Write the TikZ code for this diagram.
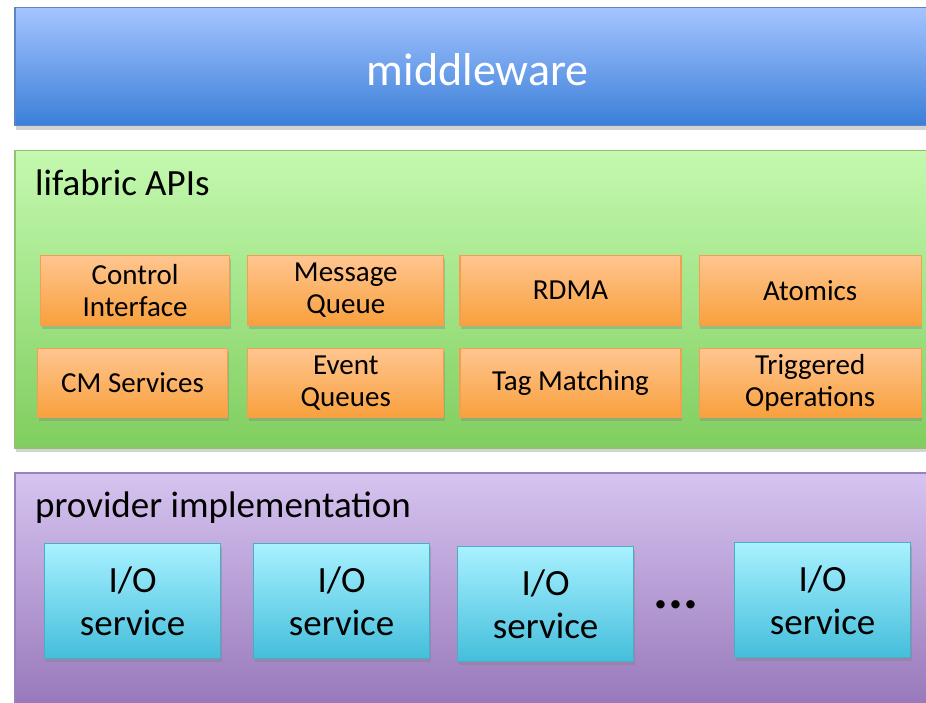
\documentclass[tikz,border=0pt]{standalone}
\usepackage{fontspec}
\setmainfont{Carlito}
\usetikzlibrary{positioning, shadows}

\definecolor{mwtop}{HTML}{A5C4FF}
\definecolor{mwbot}{HTML}{3A7FD8}
\definecolor{mwline}{HTML}{5A86C2}
\definecolor{apitop}{HTML}{C4F9AF}
\definecolor{apibot}{HTML}{80CE5F}
\definecolor{apiline}{HTML}{8EC46E}
\definecolor{optop}{HTML}{FFC590}
\definecolor{opbot}{HTML}{F8A03C}
\definecolor{opline}{HTML}{F2A050}
\definecolor{provtop}{HTML}{D6C4F0}
\definecolor{provbot}{HTML}{8E6CB2}
\definecolor{provline}{HTML}{9B80BE}
\definecolor{svctop}{HTML}{A8F1FF}
\definecolor{svcbot}{HTML}{44BEDB}
\definecolor{svcline}{HTML}{4BACC6}

\begin{document}
\begin{tikzpicture}[x=1pt, y=-1pt,
        layer/.style={draw, rectangle, anchor=north west, line width=1.5pt, minimum width=926pt,
            drop shadow={shadow xshift=1pt, shadow yshift=-4pt, opacity=0.35}},
        layerlabel/.style={anchor=base west, inner sep=0pt, font=\fontsize{37}{44}\selectfont},
        op/.style={draw=opline, rectangle, line width=1.2pt, top color=optop, bottom color=opbot,
            minimum height=70pt, align=center, inner sep=0pt, font=\fontsize{29}{32}\selectfont,
            drop shadow={shadow xshift=1pt, shadow yshift=-3pt, opacity=0.35}},
        iosvc/.style={draw=svcline, rectangle, line width=1.2pt, top color=svctop, bottom color=svcbot,
            anchor=north west, minimum width=176pt, minimum height=115pt, align=center,
            font=\fontsize{37}{43}\selectfont,
            drop shadow={shadow xshift=1pt, shadow yshift=-3pt, opacity=0.35}}]
    \useasboundingbox (0,0) rectangle (926,703);
    \clip (0,0) rectangle (926,703);

    % the three layers
    \node (mw) [layer, draw=mwline, top color=mwtop, bottom color=mwbot, minimum height=118pt,
        text=white, text height=38pt, text depth=0pt, font=\fontsize{46}{50}\selectfont] at (14,7) {middleware};
    \node (api) [layer, draw=apiline, top color=apitop, bottom color=apibot, minimum height=297pt] at (14,150) {};
    \node (prov) [layer, draw=provline, top color=provtop, bottom color=provbot, minimum height=270pt] at (14,472) {};

    \node (apilabel) [layerlabel] at (35,196) {lifabric APIs};
    \node (provlabel) [layerlabel] at (35,517) {provider implementation};

    % API groups, two rows
    \node (ctrl) [op, minimum width=189pt, anchor=north west] at (40,255) {Control\\Interface};
    \node (msgq) [op, minimum width=196pt, right=17pt of ctrl] {Message\\Queue};
    \node (rdma) [op, minimum width=221pt, right=15pt of msgq] {RDMA};
    \node (atom) [op, minimum width=222pt, right=17pt of rdma] {Atomics};

    \node (cm) [op, minimum width=190pt, minimum height=69pt, anchor=north west] at (37,348) {CM Services};
    \node (evq) [op, minimum width=196pt, minimum height=69pt, right=19pt of cm] {Event\\Queues};
    \node (tagm) [op, minimum width=221pt, minimum height=69pt, right=15pt of evq] {Tag Matching};
    \node (trig) [op, minimum width=222pt, minimum height=69pt, right=17pt of tagm] {Triggered\\Operations};

    % provider services
    \node (svc1) [iosvc] at (44,543) {I/O\\service};
    \node (svc2) [iosvc] at (253,543) {I/O\\service};
    \node (svc3) [iosvc] at (457,546) {I/O\\service};
    \node (dots) [font=\fontsize{56}{56}\bfseries] at (676,605) {...};
    \node (svc4) [iosvc] at (734,542) {I/O\\service};
\end{tikzpicture}
\end{document}
